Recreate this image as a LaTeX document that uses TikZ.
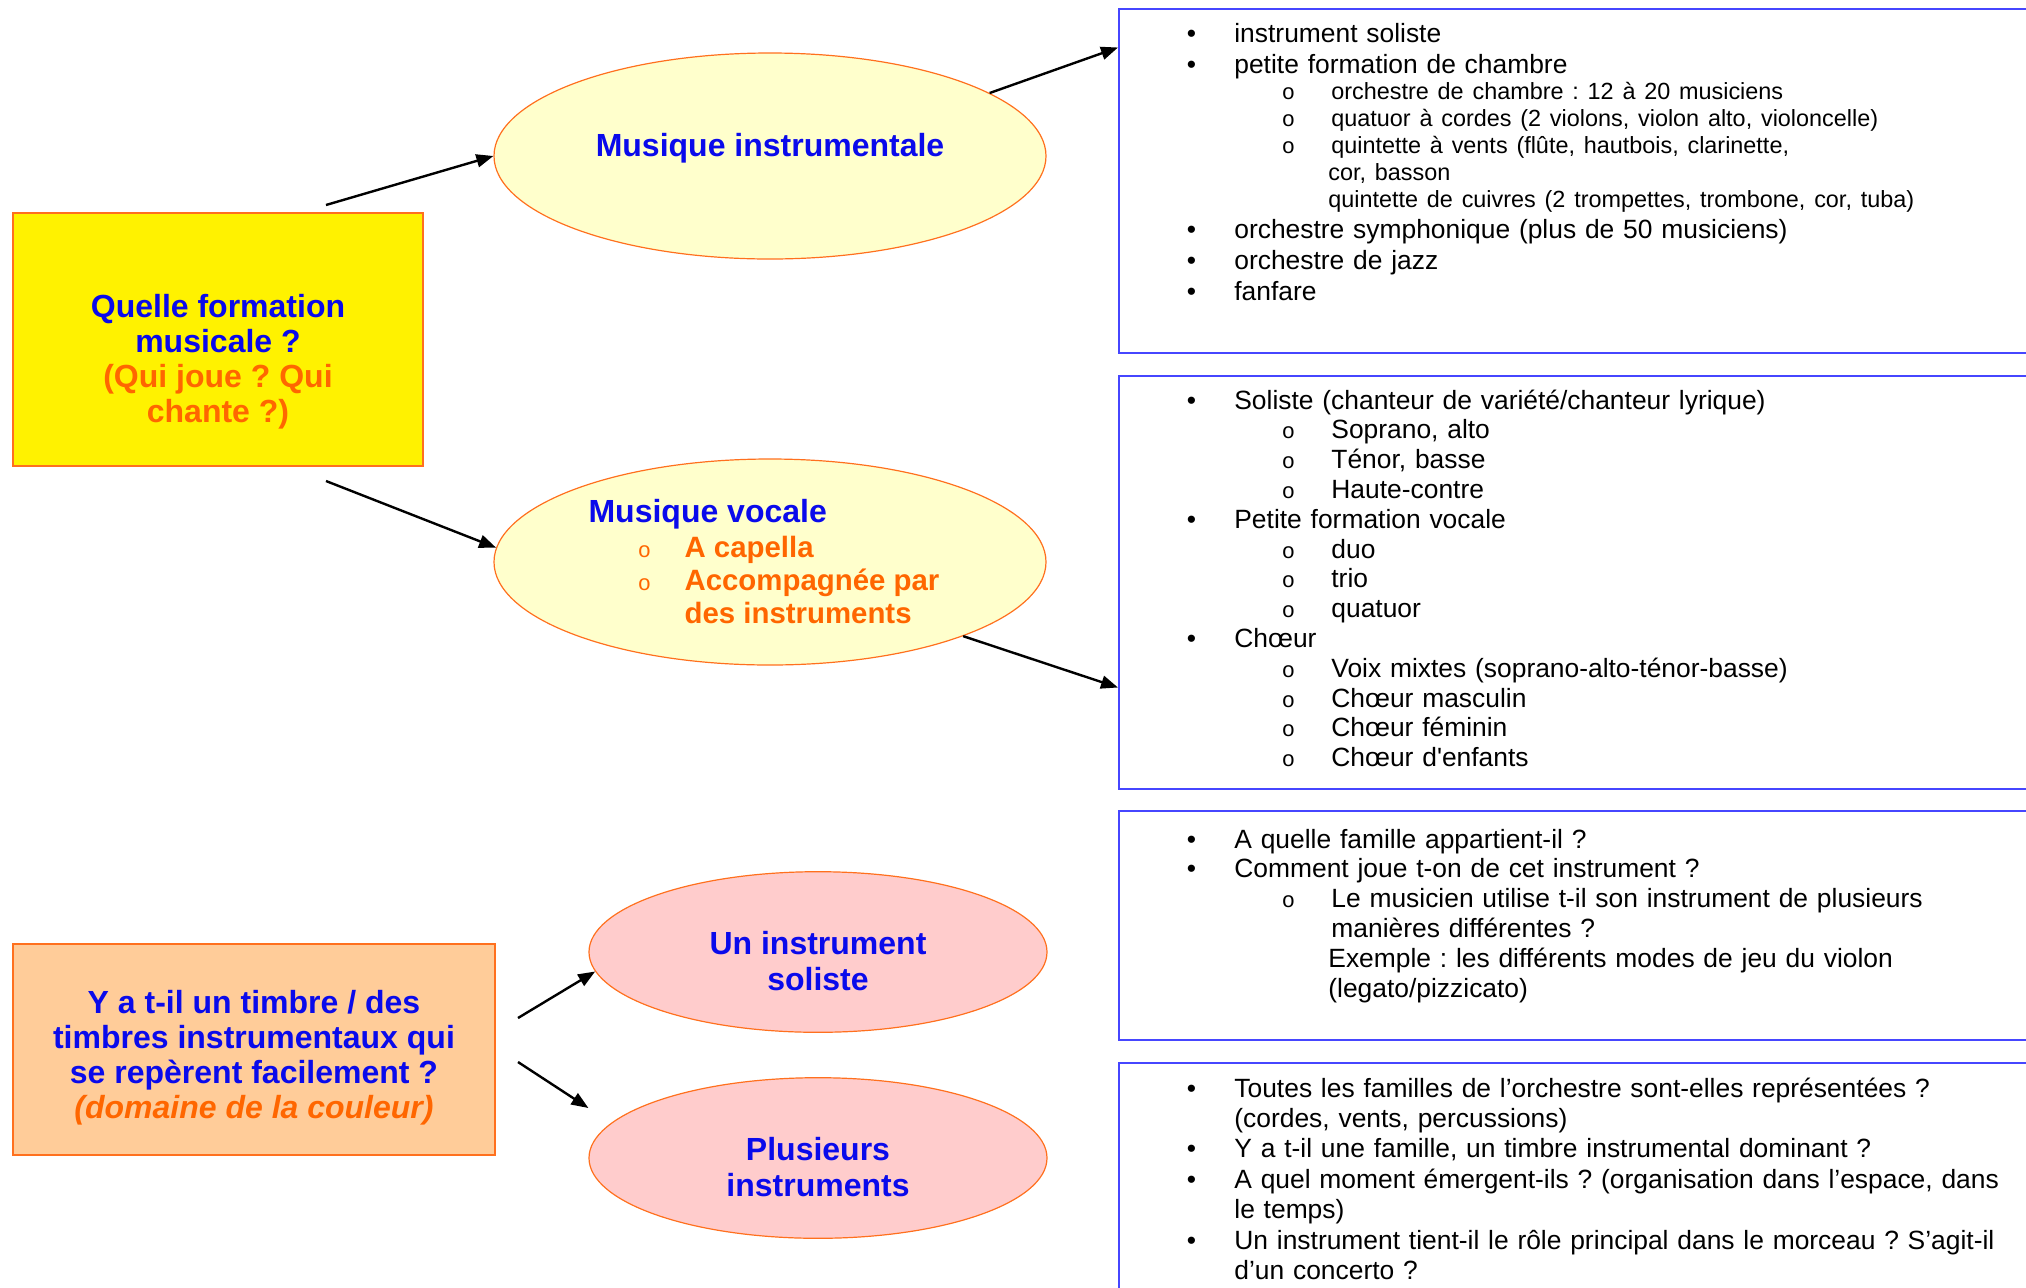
\documentclass[tikz,border=0pt]{standalone}
\usepackage{fontspec}
\setmainfont{Liberation Sans}
\newfontfamily\fontpuce{Liberation Mono}
\usetikzlibrary{arrows.meta,calc,shapes.geometric}
\frenchspacing

\definecolor{bleutitre}{RGB}{10,10,235}
\definecolor{orangetexte}{RGB}{255,102,0}
\definecolor{bordorange}{RGB}{255,112,30}
\definecolor{jaunepale}{RGB}{255,255,204}
\definecolor{rosepale}{RGB}{255,204,204}
\definecolor{orangepale}{RGB}{255,204,153}
\definecolor{bleucadre}{RGB}{70,70,255}

% puces des listes
\newcommand{\puce}{\makebox[57.5pt][l]{\hspace{33.7pt}\textbullet}}
\newcommand{\rond}{\makebox[106pt][l]{\hspace{81.2pt}{\fontpuce\fontsize{11pt}{11pt}\selectfont o}}}
\newcommand{\rondv}{\makebox[48pt][l]{\hspace{24.7pt}{\mdseries\fontpuce\fontsize{11pt}{11pt}\selectfont o}}}
\newcommand{\suite}{\hspace*{104.5pt}}
\newcommand{\suiteun}{\hspace*{57.5pt}}
\newcommand{\sousliste}{\fontsize{11.7pt}{13.4pt}\selectfont}

\begin{document}
\begin{tikzpicture}[x=0.5pt, y=-0.5pt,
    question/.style={rectangle, draw=bordorange, line width=0.6pt, inner sep=0pt},
    titre/.style={font=\fontsize{16pt}{17.5pt}\selectfont\bfseries, text=bleutitre, align=center},
    bulle/.style={ellipse, draw=bordorange, line width=0.6pt, inner sep=0pt,
        font=\fontsize{16pt}{18pt}\selectfont\bfseries, text=bleutitre, align=center},
    cadre/.style={rectangle, draw=bleucadre, line width=1pt, anchor=north west,
        minimum width=465pt, inner sep=0pt},
    liste/.style={anchor=base west, inner sep=0pt, text width=470pt, align=left,
        font=\fontsize{13.2pt}{14.9pt}\selectfont},
    fleche/.style={-{Triangle[length=8.5pt,width=6.5pt]}, line width=1.2pt}]

\useasboundingbox (0,0) rectangle (2026,1287);

% Questions
\node[question, fill=yellow, minimum width=205pt, minimum height=126.5pt] (q) at (218,339.5) {};
\node[titre] (qt) at ($(q)+(0,22)$) {Quelle formation\\musicale ?\\
    \textcolor{orangetexte}{(Qui joue ? Qui}\\\textcolor{orangetexte}{chante ?)}};
\node[question, titre, fill=orangepale, minimum width=241pt, minimum height=105.5pt] (o) at (254,1049.5)
    {\rule{0pt}{19.5pt}Y a t-il un timbre / des\\timbres instrumentaux qui\\se repèrent facilement ?\\
    \textcolor{orangetexte}{\textit{(domaine de la couleur)}}};

% Bulles
\node[bulle, fill=jaunepale, minimum width=276pt, minimum height=103pt] (mi) at (770,156)
    {Musique instrumentale\rule[-11.2pt]{0pt}{11.2pt}};
\node[bulle, fill=jaunepale, minimum width=276pt, minimum height=103pt, align=left, text=orangetexte,
    font=\fontsize{14.7pt}{16.5pt}\selectfont\bfseries] (mv) at (770,562)
    {\textcolor{bleutitre}{\fontsize{16pt}{16pt}\selectfont Musique vocale}\\[1pt]
    \rondv A capella\\\rondv Accompagnée par\rule{6pt}{0pt}\\\hspace*{48pt}des instruments};
\node[bulle, fill=rosepale, minimum width=229pt, minimum height=80.3pt] (un) at (818,952)
    {\rule{0pt}{20.7pt}Un instrument\\soliste};
\node[bulle, fill=rosepale, minimum width=229pt, minimum height=80.3pt] (pl) at (818,1158)
    {\rule{0pt}{20.7pt}Plusieurs\\instruments};

% Cadres
\node[cadre, minimum height=172pt] (f1) at (1118,7.5) {};
\node[cadre, minimum height=206.5pt] (f2) at (1118,374.5) {};
\node[cadre, minimum height=114.5pt] (f3) at (1118,810) {};
\node[cadre, minimum height=125pt] (f4) at (1118,1062) {};

% Listes
\node[liste, font=\fontsize{13.2pt}{15.5pt}\selectfont] (l1) at (1119,42) {%
\puce instrument soliste\par
\puce petite formation de chambre\par
{\sousliste
\rond orchestre de chambre : 12 à 20 musiciens\par
\rond quatuor à cordes (2 violons, violon alto, violoncelle)\par
\rond quintette à vents (flûte, hautbois, clarinette,\par
\suite cor, basson\par
\suite quintette de cuivres (2 trompettes, trombone, cor, tuba)\par}
\puce orchestre symphonique (plus de 50 musiciens)\par
\puce orchestre de jazz\par
\puce fanfare};

\node[liste] (l2) at (1119,409) {%
\puce Soliste (chanteur de variété/chanteur lyrique)\par
\rond Soprano, alto\par
\rond Ténor, basse\par
\rond Haute-contre\par
\puce Petite formation vocale\par
\rond duo\par
\rond trio\par
\rond quatuor\par
\puce Chœur\par
\rond Voix mixtes (soprano-alto-ténor-basse)\par
\rond Chœur masculin\par
\rond Chœur féminin\par
\rond Chœur d\textquotesingle enfants};

\node[liste] (l3) at (1119,848) {%
\puce A quelle famille appartient-il ?\par
\puce Comment joue t-on de cet instrument ?\par
\rond Le musicien utilise t-il son instrument de plusieurs\par
\hspace*{106pt}manières différentes ?\par
\suite Exemple : les différents modes de jeu du violon\par
\suite (legato/pizzicato)};

\node[liste, font=\fontsize{13.2pt}{15.2pt}\selectfont] (l4) at (1119,1097) {%
\puce Toutes les familles de l’orchestre sont-elles représentées ?\par
\suiteun (cordes, vents, percussions)\par
\puce Y a t-il une famille, un timbre instrumental dominant ?\par
\puce A quel moment émergent-ils ? (organisation dans l’espace, dans\par
\suiteun le temps)\par
\puce Un instrument tient-il le rôle principal dans le morceau ? S’agit-il\par
\suiteun d’un concerto ?};

% Flèches
\coordinate (dq1) at (326,205);
\coordinate (dq2) at (326,481);
\coordinate (do1) at (518,1018);
\coordinate (do2) at (518,1062);
\draw[fleche] (dq1) -- (mi.west);
\draw[fleche] (dq2) -- (mv.177);
\draw[fleche] (mi.16) -- ($(f1.north west)+(0,40)$);
\draw[fleche] (mv.-21) -- ($(f2.north west)+(0,313)$);
\draw[fleche] (do1) -- (un.185);
\draw[fleche] (do2) -- ($(pl.west)+(0,-50)$);

\end{tikzpicture}
\end{document}
